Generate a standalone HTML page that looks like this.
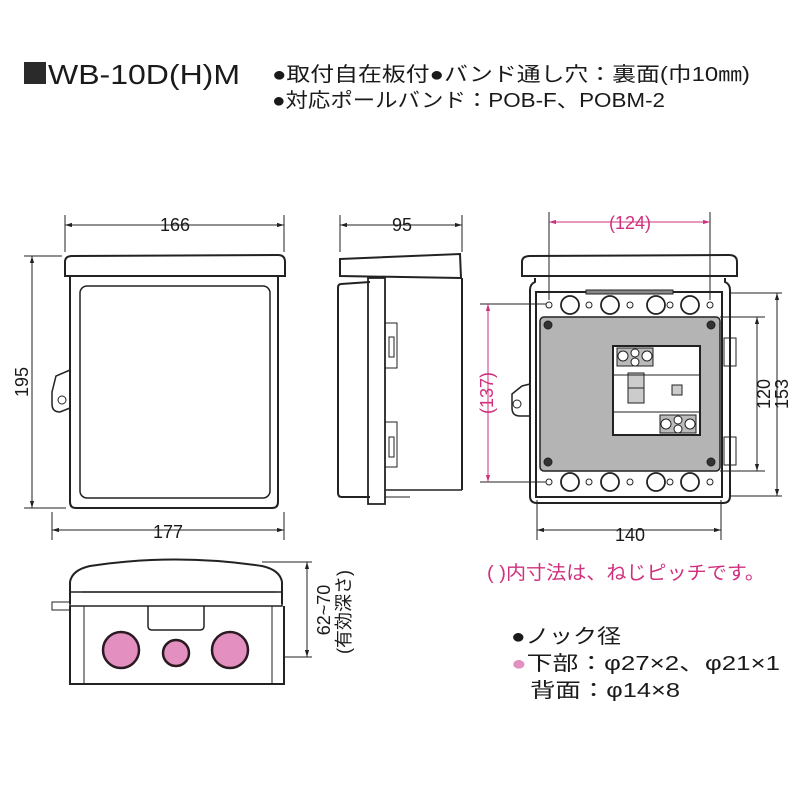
<!DOCTYPE html>
<html><head><meta charset="utf-8"><style>
html,body{margin:0;padding:0;background:#fff}
svg{display:block}
text{font-family:"Liberation Sans","Noto Sans CJK JP",sans-serif;fill:#1a1a1a}
.p{fill:#d0317e}
</style></head><body>
<svg width="800" height="800" viewBox="0 0 800 800" xmlns="http://www.w3.org/2000/svg">
<defs>
<marker id="a" viewBox="0 0 10 10" refX="10" refY="5" markerWidth="7" markerHeight="7" orient="auto-start-reverse"><path d="M0,2 L10,5 L0,8z" fill="#222"/></marker>
<marker id="ap" viewBox="0 0 10 10" refX="10" refY="5" markerWidth="7" markerHeight="7" orient="auto-start-reverse"><path d="M0,2 L10,5 L0,8z" fill="#d0317e"/></marker>
</defs>
<!-- Header -->
<rect x="24" y="62" width="22" height="22" fill="#2a2a2a"/>
<text x="48" y="84" font-size="28" textLength="192" lengthAdjust="spacingAndGlyphs">WB-10D(H)M</text>
<text x="272" y="81" font-size="20" textLength="478" lengthAdjust="spacingAndGlyphs">●取付自在板付●バンド通し穴：裏面(巾10㎜)</text>
<text x="272" y="107" font-size="20" textLength="393" lengthAdjust="spacingAndGlyphs">●対応ポールバンド：POB-F、POBM-2</text>

<g stroke="#222" fill="none" stroke-width="1">
<!-- FRONT VIEW -->
<line x1="65" y1="215" x2="65" y2="252"/><line x1="284" y1="215" x2="284" y2="252"/>
<line x1="65" y1="225" x2="284" y2="225" marker-start="url(#a)" marker-end="url(#a)"/>
<line x1="24" y1="256" x2="62" y2="256"/><line x1="24" y1="508" x2="66" y2="508"/>
<line x1="32" y1="256" x2="32" y2="508" marker-start="url(#a)" marker-end="url(#a)"/>
<line x1="52" y1="512" x2="52" y2="540"/><line x1="284" y1="512" x2="284" y2="540"/>
<line x1="52" y1="530" x2="284" y2="530" marker-start="url(#a)" marker-end="url(#a)"/>
<path d="M65,276 L65,262 Q65,256 72,256 L278,255 Q285,255 285,262 L285,276 Z" stroke-width="2"/>
<path d="M70,276 L70,502 Q70,508 76,508 L272,508 Q278,508 278,502 L278,276" stroke-width="2"/>
<rect x="80" y="286" width="190" height="212" rx="7" stroke-width="1.5"/>
<path d="M70,370 L56,376 L52,392 L52,404 Q52,412 60,412 L70,408" stroke-width="1.5"/>
<circle cx="62" cy="400" r="4"/>

<!-- SIDE VIEW -->
<line x1="340" y1="215" x2="340" y2="252"/><line x1="462" y1="215" x2="462" y2="252"/>
<line x1="340" y1="225" x2="462" y2="225" marker-start="url(#a)" marker-end="url(#a)"/>
<path d="M340,259 L460,254 L461,278 L340,276 Z" stroke-width="2"/>
<path d="M370,282 L341,284 Q338,284 338,288 L338,493 Q338,497 342,497 L370,497" stroke-width="2"/>
<path d="M368,278 L385,278 L385,504 L368,504 Z" stroke-width="1.8"/>
<line x1="462" y1="278" x2="462" y2="490" stroke-width="2"/>
<line x1="385" y1="490" x2="462" y2="490" stroke-width="1.5"/>
<line x1="385" y1="497" x2="410" y2="497"/>
<rect x="385" y="323" width="12" height="45"/><rect x="389" y="337" width="5" height="20"/>
<rect x="385" y="422" width="12" height="45"/><rect x="389" y="437" width="5" height="20"/>

<!-- RIGHT VIEW -->
<line x1="549" y1="212" x2="549" y2="300"/><line x1="710" y1="212" x2="710" y2="300"/>
<line x1="549" y1="222" x2="710" y2="222" stroke="#d0317e" marker-start="url(#ap)" marker-end="url(#ap)"/>
<line x1="480" y1="304" x2="548" y2="304"/><line x1="480" y1="482" x2="548" y2="482"/>
<line x1="488" y1="304" x2="488" y2="482" stroke="#d0317e" marker-start="url(#ap)" marker-end="url(#ap)"/>
<line x1="720" y1="317" x2="765" y2="317"/><line x1="720" y1="471" x2="765" y2="471"/>
<line x1="757" y1="317" x2="757" y2="471" marker-start="url(#a)" marker-end="url(#a)"/>
<line x1="730" y1="293" x2="782" y2="293"/><line x1="730" y1="496" x2="782" y2="496"/>
<line x1="777" y1="293" x2="777" y2="496" marker-start="url(#a)" marker-end="url(#a)"/>
<line x1="537" y1="500" x2="537" y2="540"/><line x1="721" y1="500" x2="721" y2="540"/>
<line x1="537" y1="530" x2="721" y2="530" marker-start="url(#a)" marker-end="url(#a)"/>
<path d="M522,276 L522,262 Q522,256 530,256 L729,255 Q737,255 737,262 L737,276 Z" stroke-width="2"/>
<path d="M535,278 L535,282 Q530,284 530,290 L530,496 Q530,503 537,503 L723,503 Q730,503 730,496 L730,290 Q730,284 725,282 L725,278" stroke-width="2"/>
<rect x="536" y="292" width="186" height="205" stroke-width="2"/>
<rect x="586" y="290" width="87" height="4" fill="#888"/>
<rect x="540" y="317" width="180" height="154" rx="4" fill="#b4b4b4" stroke-width="1.5"/>
<rect x="613" y="346" width="87" height="89" fill="#fff" stroke-width="2"/>
<rect x="617" y="348" width="36" height="18" fill="#bbb"/>
<circle cx="623" cy="356" r="5" fill="#fff"/><circle cx="635" cy="353" r="4" fill="#fff"/><circle cx="635" cy="362" r="4" fill="#fff"/><circle cx="647" cy="356" r="5" fill="#fff"/>
<rect x="660" y="415" width="36" height="18" fill="#bbb"/>
<circle cx="666" cy="424" r="5" fill="#fff"/><circle cx="678" cy="420" r="4" fill="#fff"/><circle cx="678" cy="429" r="4" fill="#fff"/><circle cx="690" cy="424" r="5" fill="#fff"/>
<rect x="628" y="373" width="16" height="30" fill="#ccc"/><line x1="628" y1="388" x2="644" y2="388"/>
<rect x="672" y="385" width="10" height="10" fill="#ccc"/>
<line x1="613" y1="375" x2="700" y2="375"/><line x1="613" y1="412" x2="700" y2="412"/>
<g fill="#fff" stroke-width="1.8">
<circle cx="570" cy="305" r="9"/><circle cx="610" cy="305" r="9"/><circle cx="656" cy="305" r="9"/><circle cx="690" cy="305" r="9"/>
<circle cx="570" cy="482" r="9"/><circle cx="610" cy="482" r="9"/><circle cx="656" cy="482" r="9"/><circle cx="690" cy="482" r="9"/>
</g>
<g fill="#fff"><circle cx="549" cy="305" r="3"/><circle cx="589" cy="305" r="3"/><circle cx="630" cy="305" r="3"/><circle cx="670" cy="305" r="3"/><circle cx="710" cy="305" r="3"/>
<circle cx="549" cy="482" r="3"/><circle cx="589" cy="482" r="3"/><circle cx="630" cy="482" r="3"/><circle cx="670" cy="482" r="3"/><circle cx="710" cy="482" r="3"/></g>
<g fill="#333"><circle cx="548" cy="325" r="4"/><circle cx="711" cy="325" r="4"/><circle cx="548" cy="462" r="4"/><circle cx="711" cy="462" r="4"/></g>
<path d="M530,384 L522,386 L512,394 L512,408 Q512,416 520,416 L530,416" stroke-width="1.5"/>
<circle cx="517" cy="404" r="4"/>
<rect x="724" y="338" width="12" height="28"/><rect x="724" y="437" width="12" height="28"/>

<!-- BOTTOM VIEW -->
<path d="M70,604 L70,582 Q72,570 90,566 Q175,553 262,566 Q280,570 282,582 L282,604" stroke-width="2"/>
<line x1="82" y1="592" x2="276" y2="592" stroke-width="1.2"/>
<rect x="70" y="592" width="212" height="14" stroke-width="1.5"/>
<path d="M70,606 L70,684 L284,684 L284,606" stroke-width="2"/>
<line x1="84" y1="606" x2="84" y2="684"/><line x1="272" y1="606" x2="272" y2="684"/>
<rect x="52" y="602" width="18" height="8"/>
<path d="M148,606 L148,626 Q148,630 152,630 L200,630 Q204,630 204,626 L204,606" stroke-width="1.5"/>
<g fill="#e38fbf" stroke="#2a1a22" stroke-width="2.5">
<circle cx="121" cy="650" r="18"/><circle cx="176" cy="653" r="13"/><circle cx="230" cy="650" r="18"/>
</g>
<line x1="262" y1="562" x2="312" y2="562"/><line x1="284" y1="657" x2="312" y2="657"/>
<line x1="307" y1="562" x2="307" y2="657" marker-start="url(#a)" marker-end="url(#a)"/>
</g>

<text x="175" y="231" font-size="18" text-anchor="middle">166</text>
<text x="402" y="231" font-size="18" text-anchor="middle">95</text>
<text x="630" y="229" font-size="18" text-anchor="middle" class="p">(124)</text>
<text x="168" y="538" font-size="18" text-anchor="middle">177</text>
<text x="630" y="541" font-size="18" text-anchor="middle">140</text>
<text transform="translate(28,382) rotate(-90)" font-size="18" text-anchor="middle">195</text>
<text transform="translate(493,393) rotate(-90)" font-size="18" text-anchor="middle" class="p">(137)</text>
<text transform="translate(770,394) rotate(-90)" font-size="18" text-anchor="middle">120</text>
<text transform="translate(788,394) rotate(-90)" font-size="18" text-anchor="middle">153</text>
<text transform="translate(330,610) rotate(-90)" font-size="18" text-anchor="middle">62~70</text>
<text transform="translate(350,612) rotate(-90)" font-size="18" text-anchor="middle">(有効深さ)</text>
<text x="487" y="579" font-size="19" class="p" textLength="278" lengthAdjust="spacingAndGlyphs">( )内寸法は、ねじピッチです。</text>
<text x="511" y="643" font-size="20" textLength="110" lengthAdjust="spacingAndGlyphs">●ノック径</text>
<text x="511" y="670" font-size="20" textLength="269" lengthAdjust="spacingAndGlyphs"><tspan fill="#e38fbf">●</tspan>下部：φ27×2、φ21×1</text>
<text x="530" y="697" font-size="20" textLength="150" lengthAdjust="spacingAndGlyphs">背面：φ14×8</text>
</svg>
</body></html>
